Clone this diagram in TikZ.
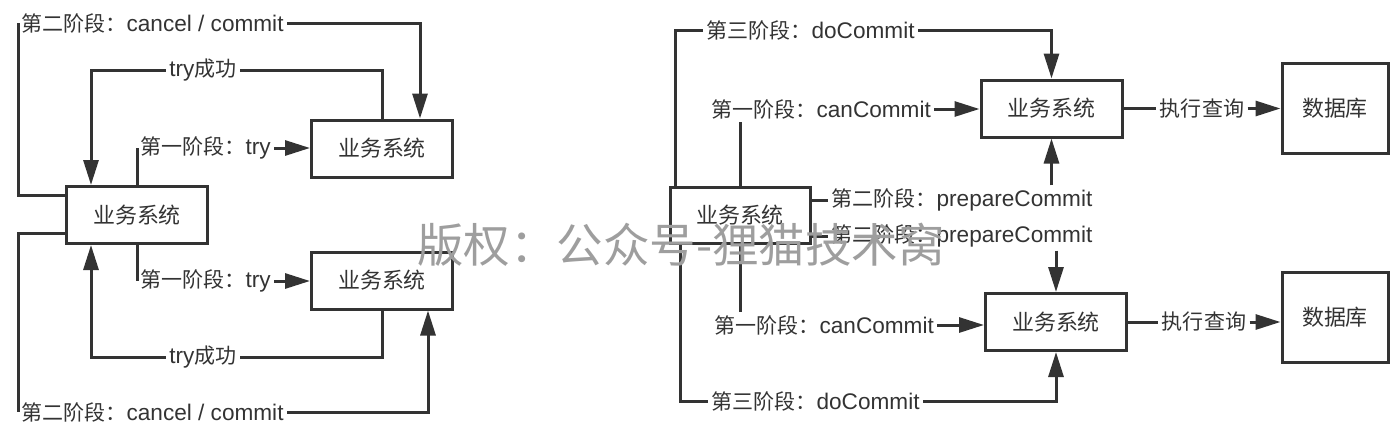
\documentclass[tikz,border=0pt]{standalone}
\usepackage{fontspec}
\setmainfont{Liberation Sans}
\newfontfamily\cjk[Scale=0.93]{Noto Sans CJK SC}
\usepackage{tikz}
\usetikzlibrary{arrows.meta,positioning,calc}
\definecolor{ink}{HTML}{333333}
\tikzstyle{line} = [draw, -{Triangle[length=12.5pt,width=7.5pt]}]
\tikzstyle{box} = [rectangle,draw=ink,minimum width=70.5pt,minimum height=28.5pt,font=\fontsize{11.8}{14}\selectfont]
\tikzstyle{lbl} = [inner sep=1pt,anchor=west]
\newcommand{\zh}[1]{{\cjk #1}}

\begin{document}
\begin{tikzpicture}[x=0.5pt, y=-0.5pt, line width=1.5pt, color=ink, font=\fontsize{11.3}{13}\selectfont]

\useasboundingbox (0,0) rectangle (1399,440);

% TCC
\node (bizL) [box] at (137,215) {\zh{业务系统}};
\node (bizLU) [box] at (382,148.5) {\zh{业务系统}};
\node (bizLD) [box] at (382,280.5) {\zh{业务系统}};

\node (lC2a) [lbl] at (18,23) {\zh{第二阶段：}cancel / commit};
\draw ([yshift=-5pt]bizL.north west) -| (lC2a.west);
\path [line] (lC2a.east) -| ([xshift=19pt]bizLU.north);

\node (lTa) [lbl,anchor=center] at (203,70) {try\zh{成功}};
\draw (bizLU.north) |- (lTa.east);
\path [line] (lTa.west) -| ([xshift=13pt]bizL.north west);

\node (lT1a) [lbl] at (137,148) {\zh{第一阶段：}try};
\draw (bizL.north) |- (lT1a.west);
\path [line] (lT1a.east) -- (lT1a.east -| bizLU.west);

\node (lT1b) [lbl] at (137,281) {\zh{第一阶段：}try};
\draw (bizL.south) |- (lT1b.west);
\path [line] (lT1b.east) -- (lT1b.east -| bizLD.west);

\node (lTb) [lbl,anchor=center] at (203,357) {try\zh{成功}};
\draw (bizLD.south) |- (lTb.east);
\path [line] (lTb.west) -| ([xshift=13pt]bizL.south west);

\node (lC2b) [lbl] at (18,412) {\zh{第二阶段：}cancel / commit};
\draw ([yshift=6pt]bizL.south west) -| (lC2b.west);
\path [line] (lC2b.east) -| ([xshift=23pt]bizLD.south);

% 3PC
\node (bizR) [box,minimum width=70pt,minimum height=28pt] at (740,215) {\zh{业务系统}};
\node (bizRU) [box] at (1051.5,108.5) {\zh{业务系统}};
\node (bizRD) [box] at (1056,322) {\zh{业务系统}};
\node (dbU) [box,minimum width=53pt,minimum height=45pt,right of=bizRU, node distance=141.75pt] {\zh{数据库}};
\node (dbD) [box,minimum width=53pt,minimum height=45pt,right of=bizRD, node distance=139.5pt, yshift=2.5pt] {\zh{数据库}};

\node (lD3a) [lbl] at (703,30) {\zh{第三阶段：}doCommit};
\draw ([xshift=3.5pt]bizR.north west) |- (lD3a.west);
\path [line] (lD3a.east) -| (bizRU.north);

\node (lC1a) [lbl] at (708,109) {\zh{第一阶段：}canCommit};
\draw (bizR.north) -- (bizR.north |- lC1a.south);
\path [line] (lC1a.east) -- (lC1a.east -| bizRU.west);

\node (lP2a) [lbl] at (828,200) {\zh{第二阶段：}prepareCommit};
\draw (lP2a.west -| bizR.east) -- (lP2a.west);
\path [line] (lP2a.north -| bizRU.south) -- (bizRU.south);

\node (lP2b) [lbl] at (828,236) {\zh{第二阶段：}prepareCommit};
\draw (lP2b.west -| bizR.east) -- (lP2b.west);
\path [line] (lP2b.south -| bizRD.north) -- (bizRD.north);

\node (lC1b) [lbl] at (711,325) {\zh{第一阶段：}canCommit};
\draw (bizR.south) -- (bizR.south |- lC1b.north);
\path [line] (lC1b.east) -- (lC1b.east -| bizRD.west);

\node (lD3b) [lbl] at (708,401) {\zh{第三阶段：}doCommit};
\draw ([xshift=6pt]bizR.south west) |- (lD3b.west);
\path [line] (lD3b.east) -| (bizRD.south);

\node (lQa) [lbl,anchor=center] at (1202,108.5) {\zh{执行查询}};
\draw (bizRU.east) -- (lQa.west);
\path [line] (lQa.east) -- (lQa.east -| dbU.west);

\node (lQb) [lbl,anchor=center] at (1204,322) {\zh{执行查询}};
\draw (bizRD.east) -- (lQb.west);
\path [line] (lQb.east) -- (lQb.east -| dbD.west);

\node (wm) [text=black!38,font=\fontsize{25}{27}\selectfont] at (681,245) {\zh{版权：公众号-狸猫技术窝}};

\end{tikzpicture}
\end{document}
